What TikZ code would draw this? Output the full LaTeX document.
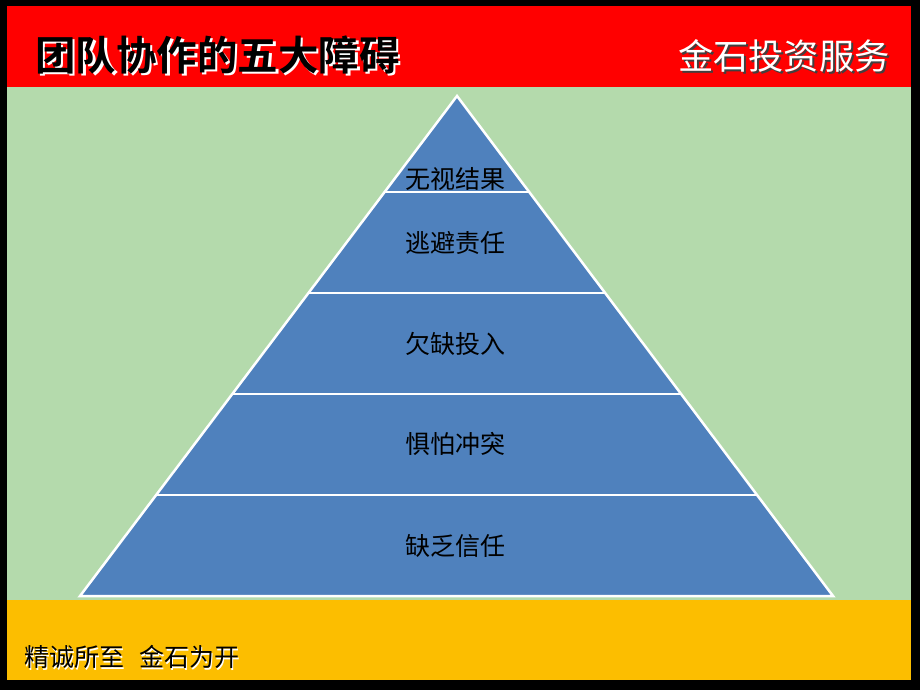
\documentclass[tikz,border=0pt]{standalone}
\usepackage{fontspec}
\usetikzlibrary{calc}
\newfontfamily\cjk{Noto Sans CJK SC}
\newfontfamily\cjkb{Noto Sans CJK SC Bold}
\definecolor{pblue}{RGB}{79,129,189}
\definecolor{bggreen}{RGB}{180,218,172}
\definecolor{bgyellow}{RGB}{252,190,0}
\definecolor{bgred}{RGB}{255,0,0}
\tikzset{
  layer/.style={fill=pblue,draw=white,line width=2.5pt,line join=miter},
  lvl/.style={font=\cjk\fontsize{25}{25}\selectfont,text=black,inner sep=0pt},
  titlefont/.style={font=\cjkb\fontsize{40.5}{40.5}\selectfont,inner sep=0pt,anchor=west},
  brandfont/.style={font=\cjk\fontsize{35.3}{35.3}\selectfont,inner sep=0pt,anchor=east},
  mottofont/.style={font=\cjk\fontsize{25}{25}\selectfont,inner sep=0pt,anchor=west},
}
\begin{document}
\begin{tikzpicture}[x=1pt,y=-1pt]
\useasboundingbox (0,0) rectangle (920,690);
\fill[black] (0,0) rectangle (920,690);
\fill[bgred] (7,6) rectangle (911,87);
\fill[bggreen] (7,87) rectangle (911,600);
\fill[bgyellow] (7,600) rectangle (911,680);
% title
\node[titlefont,text=white] at (37.5,57) {团队协作的五大障碍};
\node (title)[titlefont,text=black] at (35,54.5) {团队协作的五大障碍};
\node[brandfont,text=black!75] at (892,58) {金石投资服务};
\node (brand)[brandfont,text=white] at (890,56) {金石投资服务};
% footer
\node[mottofont,text=white] at (25.5,658.5) {精诚所至\hspace{15pt}金石为开};
\node (motto)[mottofont,text=black] at (24,657) {精诚所至\hspace{15pt}金石为开};
% pyramid
\coordinate (apex) at (457,96);
\coordinate (bl) at (80,596);
\coordinate (br) at (833,596);
\path[layer] (apex) -- (bl) -- (br) -- cycle;
\foreach \t in {0.192,0.394,0.596,0.798}{
  \draw[white,line width=2.5pt] ($(apex)!\t!(bl)$) -- ($(apex)!\t!(br)$);
}
\node (l1)[lvl] at (455,179) {无视结果};
\node (l2)[lvl] at (455,243) {逃避责任};
\node (l3)[lvl] at (455,344) {欠缺投入};
\node (l4)[lvl] at (455,444) {惧怕冲突};
\node (l5)[lvl] at (455,546) {缺乏信任};
\end{tikzpicture}
\end{document}
